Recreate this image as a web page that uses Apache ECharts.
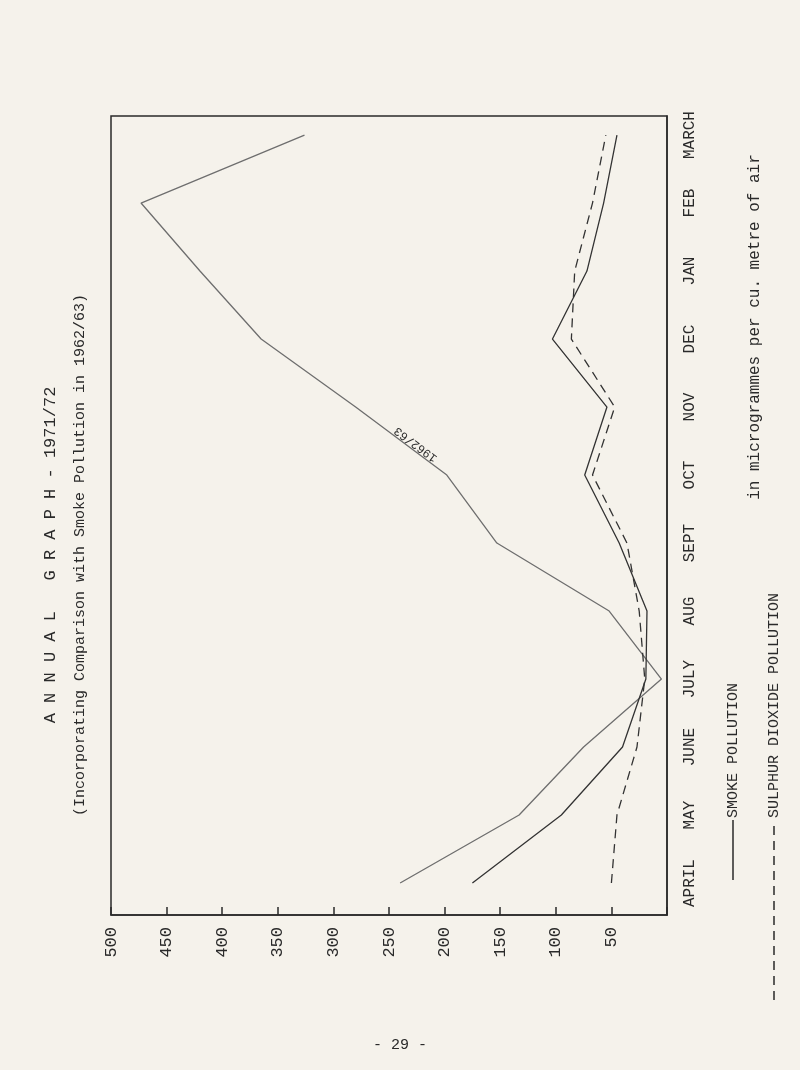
<!DOCTYPE html>
<html><head><meta charset="utf-8">
<script src="https://cdn.jsdelivr.net/npm/echarts@6/dist/echarts.min.js"></script>
<style>html,body{margin:0;padding:0;background:#f5f2eb;}#c{width:800px;height:1070px;}</style>
</head><body><div id="c"></div>
<script>
const months = ['APRIL','MAY','JUNE','JULY','AUG','SEPT','OCT','NOV','DEC','JAN','FEB','MARCH'];
const monthIndex = [0,1,2,3,4,5,6,7,8,9,10,11];
const smoke6263 = [240,133,75,5,52,153,198,280,365,420,473,326];
const smoke7172 = [175,95,40,19,18,43,74,54,103,72,57,45];
const so27172 = [50,45,27,20,25,36,67,47,86,83,67,55];
const valueTicks = [50,100,150,200,250,300,350,400,450,500];

const FONT = 'Liberation Mono';
const ink = '#2a2a2a';
function pairs(vals){ return vals.map((v,i)=>[v, monthIndex[i]]); }

const chart = echarts.init(document.getElementById('c'));
chart.setOption({
  backgroundColor:'#f5f2eb',
  animation:false,
  grid:{left:111,right:133,top:116,bottom:155,show:true,borderColor:ink,borderWidth:1.5,containLabel:false},
  xAxis:{type:'value',inverse:true,min:0,max:500,interval:50,position:'bottom',
    axisLine:{show:true,onZero:false,lineStyle:{color:ink,width:1.5}},
    axisTick:{show:true,inside:true,length:8,lineStyle:{color:ink,width:1.5}},
    axisLabel:{rotate:90,margin:12,fontFamily:FONT,fontSize:17,color:ink,padding:[0,0,14,0],
      formatter:v=>valueTicks.indexOf(v)>=0?String(v):''},
    splitLine:{show:false}},
  yAxis:{type:'value',position:'right',min:-0.47,max:11.28,
    axisLine:{show:true,onZero:false,lineStyle:{color:ink,width:1.5}},
    axisTick:{show:false},
    axisLabel:{customValues:monthIndex,rotate:90,margin:15,fontFamily:FONT,fontSize:16,color:ink,
      formatter:v=>months[Math.round(v)]},
    splitLine:{show:false}},
  series:[
    {name:'1962/63',type:'line',data:pairs(smoke6263),symbol:'none',lineStyle:{color:'#6e6e6e',width:1.3}},
    {name:'SMOKE POLLUTION',type:'line',data:pairs(smoke7172),symbol:'none',lineStyle:{color:'#333',width:1.3}},
    {name:'SULPHUR DIOXIDE POLLUTION',type:'line',data:pairs(so27172),symbol:'none',lineStyle:{color:'#333',width:1.3,type:[9,6]}}
  ]
});

const p1 = chart.convertToPixel({gridIndex:0},[smoke6263[6],monthIndex[6]]);
const p2 = chart.convertToPixel({gridIndex:0},[smoke6263[7],monthIndex[7]]);
const lx = p1[0]*0.62+p2[0]*0.38, ly = p1[1]*0.62+p2[1]*0.38;
const ang = Math.atan2(p1[1]-p2[1], p1[0]-p2[0]);

chart.setOption({graphic:[
  {type:'text',x:50,y:555,rotation:Math.PI/2,style:{text:'A N N U A L   G R A P H - 1971/72',font:'17px "Liberation Mono"',fill:ink,align:'center',verticalAlign:'middle'}},
  {type:'text',x:80,y:555,rotation:Math.PI/2,style:{text:'(Incorporating Comparison with Smoke Pollution in 1962/63)',font:'15px "Liberation Mono"',fill:ink,align:'center',verticalAlign:'middle'}},
  {type:'text',x:755,y:327,rotation:Math.PI/2,style:{text:'in microgrammes per cu. metre of air',font:'16px "Liberation Mono"',fill:ink,align:'center',verticalAlign:'middle'}},
  {type:'line',shape:{x1:733,y1:880,x2:733,y2:820},style:{stroke:ink,lineWidth:1.5}},
  {type:'text',x:733,y:818,rotation:Math.PI/2,style:{text:'SMOKE POLLUTION',font:'15px "Liberation Mono"',fill:ink,align:'left',verticalAlign:'middle'}},
  {type:'line',shape:{x1:774,y1:1000,x2:774,y2:820},style:{stroke:ink,lineWidth:1.5,lineDash:[9,6]}},
  {type:'text',x:774,y:818,rotation:Math.PI/2,style:{text:'SULPHUR DIOXIDE POLLUTION',font:'15px "Liberation Mono"',fill:ink,align:'left',verticalAlign:'middle'}},
  {type:'text',x:lx,y:ly,rotation:-ang+Math.PI,style:{text:'1962/63',font:'12px "Liberation Mono"',fill:ink,align:'center',verticalAlign:'top'}},
  {type:'text',x:400,y:1045,style:{text:'- 29 -',font:'15px "Liberation Mono"',fill:ink,align:'center',verticalAlign:'middle'}}
]});
</script></body></html>
